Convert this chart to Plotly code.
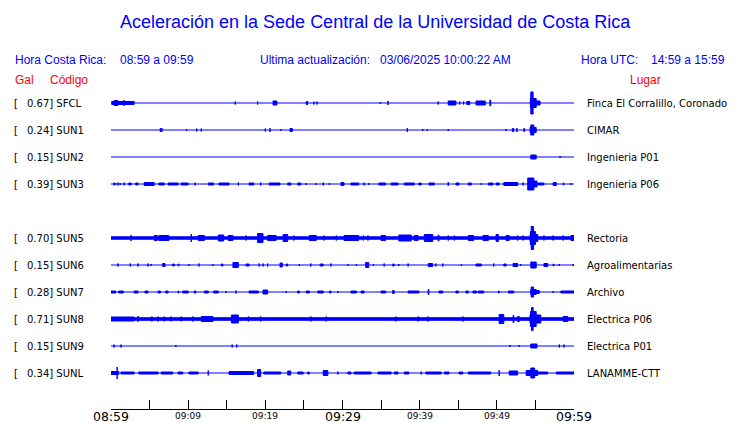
import plotly.graph_objects as go

# ---------------- data ----------------
codes = ["SFCL", "SUN1", "SUN2", "SUN3", "SUN5", "SUN6", "SUN7", "SUN8", "SUN9", "SUNL"]
peak_gal = [0.67, 0.24, 0.15, 0.39, 0.70, 0.15, 0.28, 0.71, 0.15, 0.34]
places = ["Finca El Corralillo, Coronado", "CIMAR", "Ingenieria P01", "Ingenieria P06",
          "Rectoria", "Agroalimentarias", "Archivo", "Electrica P06", "Electrica P01", "LANAMME-CTT"]
# continuous background noise amplitude (half-width) of each trace
noise_floor = [0, 0, 0, 0, 1.2, 0, 0, 1.3, 0, 0]

# bursts per station: (start minute, end minute, amplitude)
SFCL = [(0.1, 3.0, 1.5), (0.4, 0.9, 2.5), (1.7, 1.7, 3), (16.1, 16.1, 1.5), (19.0, 19.0, 1.5),
        (21.0, 21.5, 2), (25.3, 25.5, 1.5), (26.3, 26.3, 1.5), (26.7, 26.7, 1.5), (34.9, 34.9, 1),
        (35.9, 35.9, 2), (42.4, 42.4, 1.5), (43.7, 44.7, 2), (45.2, 45.2, 1.5), (45.7, 45.7, 1.5),
        (46.1, 46.5, 1.5), (47.3, 48.5, 2), (49.1, 49.2, 3),
        (54.35, 55.6, 2), (54.35, 55.1, 4.5), (54.4, 54.7, 11)]
SUN1 = [(6.4, 6.4, 2), (6.6, 6.6, 2), (9.8, 9.8, 1), (11.1, 11.1, 1.5), (11.7, 11.7, 1.5),
        (20.0, 20.0, 1.5), (20.6, 20.6, 2), (22.0, 22.0, 1), (23.2, 23.5, 1.5), (38.4, 38.4, 2),
        (40.4, 40.4, 1), (41.0, 41.0, 1), (43.7, 43.7, 1), (51.2, 51.2, 1), (52.0, 52.2, 1.5),
        (52.6, 52.6, 2), (53.5, 53.6, 1.5), (54.3, 55.1, 2.5), (54.4, 54.8, 5)]
SUN2 = [(54.4, 55.1, 2), (58.2, 58.2, 1)]
SUN3 = [(0.4, 0.4, 1.5), (0.6, 0.6, 1), (0.9, 0.9, 1.5), (1.2, 1.2, 1), (1.7, 1.7, 1.5),
        (2.3, 2.6, 1), (3.2, 3.5, 1), (4.3, 5.6, 1.5), (6.2, 6.9, 1), (7.4, 8.7, 1),
        (9.1, 10.0, 1), (10.9, 10.9, 1.5), (12.6, 13.3, 1), (14.0, 15.3, 1), (16.5, 16.5, 1.5),
        (17.9, 18.5, 1), (19.4, 19.4, 1.5), (20.5, 21.9, 1), (22.9, 23.3, 1), (24.2, 24.6, 1),
        (25.3, 25.3, 1), (26.6, 26.6, 1), (27.5, 27.5, 1.5), (28.3, 28.3, 1), (29.8, 30.2, 1.5),
        (31.1, 32.1, 1), (32.8, 32.8, 1.5), (33.4, 33.4, 1), (34.7, 35.6, 1), (36.3, 37.2, 1),
        (38.0, 39.3, 1), (39.9, 40.2, 1), (41.2, 41.9, 1), (43.7, 43.7, 2), (44.7, 45.1, 1),
        (46.3, 46.7, 1), (48.0, 48.0, 1), (48.9, 49.5, 1), (49.9, 50.3, 1), (50.9, 52.7, 1.5),
        (53.4, 53.4, 1.5), (54.1, 55.2, 3), (54.0, 54.8, 6), (55.3, 56.1, 1), (57.3, 57.7, 1.5),
        (58.6, 58.7, 1), (59.6, 59.6, 1)]
SUN5 = [(2.6, 2.6, 3), (5.6, 6.0, 2.5), (6.2, 7.5, 2.5), (10.4, 10.4, 4), (11.3, 12.1, 2.5),
        (13.9, 14.6, 3), (15.2, 15.8, 2.5), (17.5, 17.5, 2.5), (19.0, 19.7, 4.5), (20.3, 21.4, 2.5),
        (22.3, 22.9, 3.5), (23.7, 23.7, 2.5), (25.7, 26.6, 2.5), (27.6, 27.6, 2.5), (29.2, 29.2, 2.5),
        (30.2, 32.1, 2.5), (32.7, 32.7, 2.5), (33.3, 33.3, 2.5), (35.0, 35.6, 2.5), (37.3, 38.9, 3),
        (39.3, 39.8, 2.5), (40.6, 41.7, 3.5), (42.4, 42.5, 3), (43.7, 43.7, 2.5), (44.5, 44.5, 2.5),
        (46.3, 47.0, 2.5), (48.2, 48.9, 2.5), (49.9, 50.2, 3.5), (51.2, 51.6, 2.5), (52.7, 52.7, 2.5),
        (53.4, 53.4, 2.5), (54.3, 55.3, 3.5), (54.35, 55.0, 6.5), (54.45, 54.75, 11.5),
        (56.1, 56.1, 2.5), (57.3, 57.3, 2.5), (58.6, 58.6, 2.5), (59.6, 60.0, 2.5)]
SUN6 = [(0.9, 0.9, 1.5), (2.5, 2.5, 1.5), (3.5, 3.5, 1.5), (4.8, 4.8, 1.5), (5.2, 5.2, 1),
        (6.7, 7.0, 1.5), (8.0, 8.2, 1), (8.7, 8.8, 1), (10.1, 10.1, 1), (11.4, 11.4, 1.5),
        (13.2, 13.2, 1), (14.3, 14.5, 1), (15.8, 16.5, 2.5), (17.5, 17.9, 1), (19.2, 19.2, 1.5),
        (19.7, 19.7, 1.5), (20.3, 20.3, 1.5), (21.9, 22.2, 2), (22.7, 22.9, 1), (24.4, 24.4, 1),
        (25.9, 25.9, 1.5), (27.1, 27.5, 1), (28.5, 28.5, 1.5), (30.7, 30.7, 1), (31.8, 31.8, 1),
        (33.0, 33.4, 2.5), (34.0, 34.0, 1), (35.4, 35.4, 1.5), (36.5, 36.7, 1), (37.3, 37.3, 1),
        (38.5, 38.5, 1.5), (41.1, 41.7, 1.5), (42.1, 42.1, 1.5), (43.0, 43.0, 1.5), (45.4, 45.4, 1),
        (47.3, 48.0, 1), (49.6, 49.6, 1.5), (50.9, 51.2, 1), (52.1, 52.7, 1.5), (53.1, 53.1, 1),
        (54.4, 55.1, 3), (56.1, 56.6, 1.5), (57.3, 57.4, 1), (58.1, 58.1, 1), (59.9, 59.9, 1)]
SUN7 = [(0.0, 0.6, 1), (1.0, 1.6, 1), (3.0, 3.5, 1), (4.4, 4.8, 1), (6.1, 6.4, 1),
        (7.1, 7.4, 1), (8.7, 8.8, 1), (9.3, 10.0, 1), (10.8, 11.0, 1), (12.1, 12.6, 1),
        (13.3, 13.9, 1), (14.9, 14.9, 1), (16.2, 16.2, 1.5), (17.9, 19.1, 1), (19.7, 20.3, 2),
        (22.7, 22.7, 1), (24.2, 24.4, 1), (25.3, 25.7, 1), (26.8, 27.5, 1), (28.3, 28.5, 1),
        (29.4, 29.4, 1), (31.1, 31.8, 1), (32.4, 32.8, 1), (35.0, 35.6, 1), (36.5, 36.7, 1.5),
        (38.5, 39.9, 1), (41.1, 41.2, 2.5), (42.5, 43.0, 1), (44.7, 45.0, 1), (46.0, 46.3, 1),
        (46.9, 47.4, 1), (47.6, 48.3, 1), (50.2, 50.3, 1), (51.5, 52.2, 1), (54.4, 55.1, 2.5),
        (54.45, 54.75, 5), (55.1, 55.5, 1.5), (57.3, 57.3, 1), (58.3, 60.0, 1)]
SUN8 = [(0.0, 3.0, 2), (3.5, 3.5, 3), (5.3, 5.3, 2.5), (6.1, 6.1, 2.5), (6.9, 6.9, 2.5),
        (7.8, 7.8, 2.5), (9.1, 9.1, 2.5), (10.6, 10.6, 2.5), (11.7, 13.2, 2.5), (15.6, 16.5, 4),
        (17.8, 17.8, 2.5), (19.4, 19.4, 2.5), (25.9, 25.9, 2.5), (27.9, 27.9, 2.5), (36.9, 36.9, 2.5),
        (39.8, 39.8, 2.5), (41.1, 41.1, 2.5), (45.6, 45.6, 2.5), (50.3, 50.9, 4.5), (52.1, 52.2, 3.5),
        (52.7, 52.9, 2.5), (54.3, 55.7, 4), (54.35, 55.1, 7.5), (54.5, 54.7, 11.5), (58.6, 59.2, 2.5)]
SUN9 = [(0.4, 0.4, 1.5), (1.3, 1.3, 1.5), (8.4, 8.4, 1), (15.7, 15.7, 1.5), (16.3, 16.3, 1.5),
        (51.7, 51.7, 1), (52.9, 52.9, 1), (54.4, 55.2, 2), (58.1, 58.1, 1.5), (58.7, 58.7, 1.5)]
SUNL = [(0.0, 1.0, 1.5), (0.8, 0.8, 6), (1.3, 3.0, 1), (3.6, 6.1, 1), (6.5, 8.0, 1),
        (8.7, 9.3, 1), (10.1, 11.3, 1), (12.6, 12.6, 2.5), (15.3, 18.5, 1.5), (19.0, 19.4, 3.5),
        (19.8, 22.0, 1), (22.9, 23.3, 2), (24.2, 24.9, 1), (25.5, 25.7, 1), (27.5, 28.1, 2.5),
        (29.4, 29.4, 1.5), (30.7, 31.1, 1), (31.5, 33.7, 1), (34.6, 36.3, 1), (36.7, 37.2, 1),
        (38.0, 38.6, 1), (40.2, 40.2, 1.5), (40.8, 42.8, 1), (43.2, 43.8, 1), (45.1, 45.6, 1),
        (46.3, 49.2, 1), (50.3, 50.3, 3), (51.6, 52.7, 2), (53.8, 55.3, 2.5), (54.4, 54.9, 5),
        (55.3, 56.6, 1), (57.7, 60.0, 1)]
bursts = [SFCL, SUN1, SUN2, SUN3, SUN5, SUN6, SUN7, SUN8, SUN9, SUNL]

tick_minutes = [0, 10, 20, 30, 40, 50, 60]
tick_text = ["08:59", "09:09", "09:19", "09:29", "09:39", "09:49", "09:59"]
tick_major = [True, False, False, True, False, False, True]

title = "Aceleración en la Sede Central de la Universidad de Costa Rica"
hora_cr = "08:59 a 09:59"
ultima = "03/06/2025 10:00:22 AM"
hora_utc = "14:59 a 15:59"

# ---------------- layout constants ----------------
OFF = 8                      # page body margin of the browser
W, H = 740 - OFF, 423 - OFF
AX_L, AX_R, AX_T, AX_B = 111, 574, 90, 409   # plot area, in screen pixels
ML, MR = AX_L - OFF, W - (AX_R - OFF)
MT, MB = AX_T - OFF, H - (AX_B - OFF)
PW, PH = W - ML - MR, H - MT - MB
ROW0, ROWSTEP = 13, 27
BLUE, RED = "#0000FF", "#FF0000"


def px_x(px):
    return (px - AX_L) / PW


def px_y(py):
    return (AX_B - py) / PH


fig = go.Figure()

for i, code in enumerate(codes):
    slot = i + (1 if i >= 4 else 0)
    yc = ROW0 + ROWSTEP * slot
    xs, ys = [], []
    nf = noise_floor[i]
    if nf > 0:
        xs += [0, 60, 60, 0, 0, None]
        ys += [yc - nf, yc - nf, yc + nf, yc + nf, yc - nf, None]
    for (t0, t1, a) in bursts[i]:
        xs += [t0, t1, t1, t0, t0, None]
        ys += [yc - a, yc - a, yc + a, yc + a, yc - a, None]
    fig.add_trace(go.Scatter(x=[0, 60], y=[yc, yc], mode="lines",
                             line=dict(color=BLUE, width=1), hoverinfo="skip", showlegend=False))
    fig.add_trace(go.Scatter(x=xs, y=ys, mode="lines", fill="toself", fillcolor=BLUE,
                             line=dict(color=BLUE, width=1), hoverinfo="skip", showlegend=False))
    fig.add_annotation(x=px_x(12), xref="paper", y=yc, yref="y", text="[", showarrow=False,
                       xanchor="left", yanchor="middle",
                       font=dict(family="DejaVu Sans", size=10, color="black"))
    fig.add_annotation(x=px_x(25), xref="paper", y=yc, yref="y",
                       text=f"{peak_gal[i]:.2f}] {code}", showarrow=False,
                       xanchor="left", yanchor="middle",
                       font=dict(family="DejaVu Sans", size=10, color="black"))
    fig.add_annotation(x=px_x(585), xref="paper", y=yc, yref="y", text=places[i], showarrow=False,
                       xanchor="left", yanchor="middle",
                       font=dict(family="DejaVu Sans", size=10, color="black"))

# tick labels
for m, t, big in zip(tick_minutes, tick_text, tick_major):
    fig.add_annotation(x=m, xref="x", y=px_y(416.5 if big else 415.5), yref="paper", text=t,
                       showarrow=False, xanchor="center", yanchor="middle", borderpad=0,
                       font=dict(family="DejaVu Sans", size=12.5 if big else 9, color="black"))

# header texts
fig.add_annotation(x=px_x(375), xref="paper", y=px_y(22), yref="paper", text=title,
                   showarrow=False, xanchor="center", yanchor="middle",
                   font=dict(family="Liberation Sans, Arial, sans-serif", size=18, color=BLUE))
hdr = dict(family="Liberation Sans, Arial, sans-serif", size=12, color=BLUE)
for px, txt in [(13, "Hora Costa Rica:"), (118, hora_cr), (258, "Ultima actualización:"),
                (378, ultima), (579, "Hora UTC:"), (649, hora_utc)]:
    fig.add_annotation(x=px_x(px), xref="paper", y=px_y(60), yref="paper", text=txt,
                       showarrow=False, xanchor="left", yanchor="middle", font=hdr)
red = dict(family="Liberation Sans, Arial, sans-serif", size=12, color=RED)
for px, txt in [(13, "Gal"), (48, "Código"), (628, "Lugar")]:
    fig.add_annotation(x=px_x(px), xref="paper", y=px_y(80), yref="paper", text=txt,
                       showarrow=False, xanchor="left", yanchor="middle", font=red)

fig.update_layout(
    width=W, height=H,
    margin=dict(l=ML, r=MR, t=MT, b=MB, pad=0),
    paper_bgcolor="white", plot_bgcolor="white",
    xaxis=dict(range=[0, 60], tickmode="array", tickvals=list(range(0, 61, 5)),
               showticklabels=False, ticks="inside", ticklen=9, tickwidth=1, tickcolor="black",
               showline=True, linecolor="black", linewidth=1, showgrid=False, zeroline=False,
               fixedrange=True),
    yaxis=dict(range=[PH, 0], visible=False, showgrid=False, zeroline=False, fixedrange=True),
    showlegend=False,
)

fig.write_html("out.html")
